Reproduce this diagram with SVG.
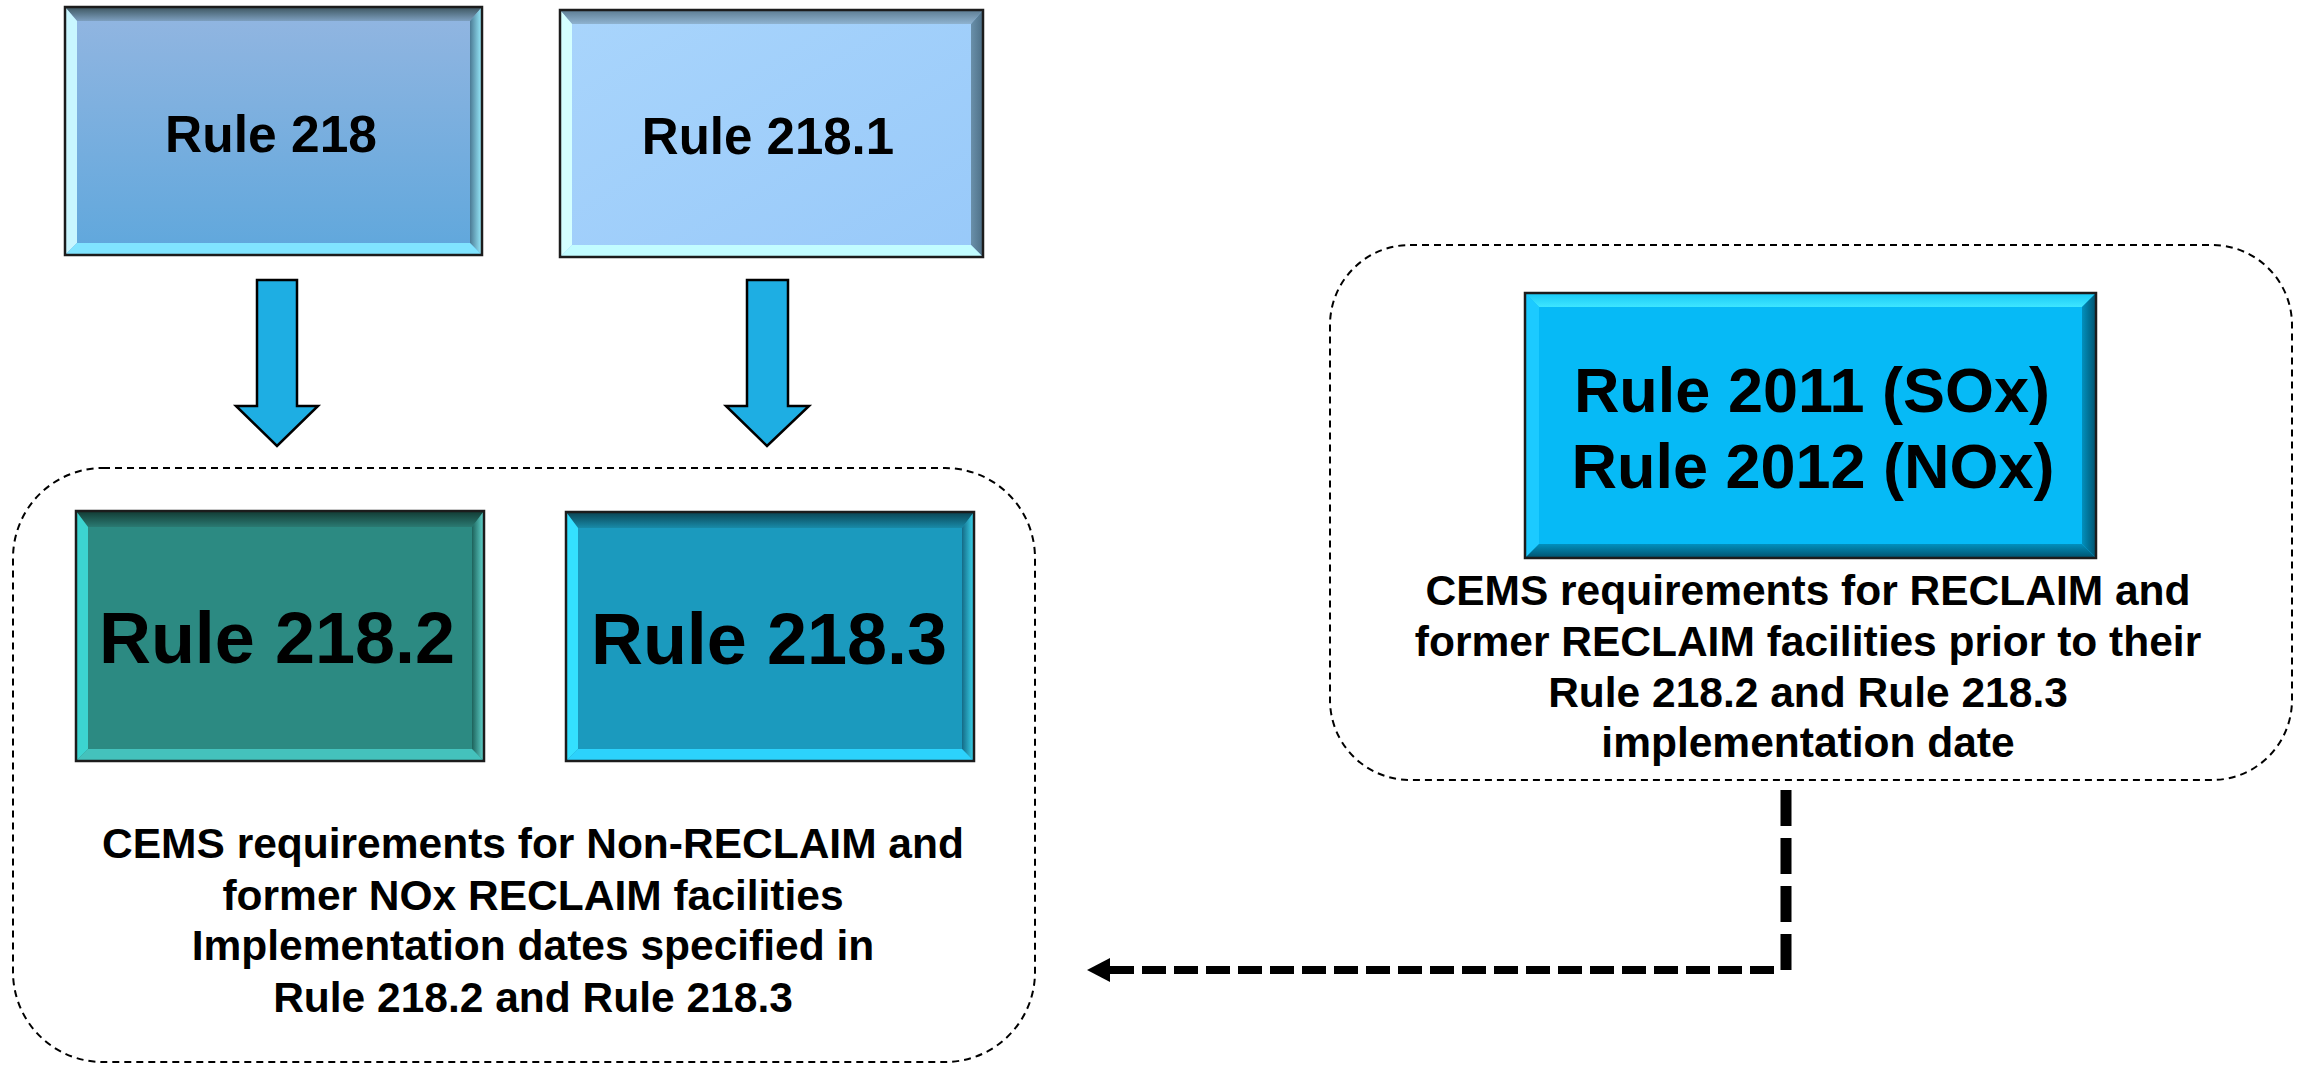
<svg xmlns="http://www.w3.org/2000/svg" width="2305" height="1065" viewBox="0 0 2305 1065">
<style>
.label{font-family:"Liberation Sans",Arial,sans-serif;font-weight:bold;fill:#000;text-anchor:middle}
.border{fill:none;stroke:#1c1c1c;stroke-width:2.5}
.container{fill:none;stroke:#000;stroke-width:2;stroke-dasharray:7 5}
.blockarrow{fill:#1eaee3;stroke:#000;stroke-width:2.5;stroke-linejoin:miter}
.conn-h{fill:none;stroke:#000;stroke-width:8;stroke-dasharray:24 8}
.conn-v{fill:none;stroke:#000;stroke-width:11;stroke-dasharray:36 12}
</style>
<defs>
<linearGradient id="g218" x1="0" y1="0" x2="0" y2="1"><stop offset="0" stop-color="#93b6e1"/><stop offset="1" stop-color="#5fa7dc"/></linearGradient>
<linearGradient id="g218t" x1="0" y1="0" x2="0" y2="1"><stop offset="0" stop-color="#3c555f"/><stop offset="1" stop-color="#7d9fbf"/></linearGradient>
<linearGradient id="g218r" x1="0" y1="0" x2="1" y2="0"><stop offset="0" stop-color="#4b7a94"/><stop offset="1" stop-color="#9aeeff"/></linearGradient>
<linearGradient id="g2181" x1="0" y1="0" x2="1" y2="1"><stop offset="0" stop-color="#a9d5fc"/><stop offset="1" stop-color="#98c9f9"/></linearGradient>
<linearGradient id="g2181t" x1="0" y1="0" x2="0" y2="1"><stop offset="0" stop-color="#5d7c92"/><stop offset="1" stop-color="#8fb3d0"/></linearGradient>
<linearGradient id="g2181r" x1="0" y1="0" x2="1" y2="0"><stop offset="0" stop-color="#6a90aa"/><stop offset="1" stop-color="#4d6f86"/></linearGradient>
<linearGradient id="g2182t" x1="0" y1="0" x2="0" y2="1"><stop offset="0" stop-color="#123a33"/><stop offset="1" stop-color="#2a7a72"/></linearGradient>
<linearGradient id="g2182r" x1="0" y1="0" x2="1" y2="0"><stop offset="0" stop-color="#1d625b"/><stop offset="1" stop-color="#62d8d0"/></linearGradient>
<linearGradient id="g2183t" x1="0" y1="0" x2="0" y2="1"><stop offset="0" stop-color="#0a4352"/><stop offset="1" stop-color="#188aa8"/></linearGradient>
<linearGradient id="g2183r" x1="0" y1="0" x2="1" y2="0"><stop offset="0" stop-color="#146a86"/><stop offset="1" stop-color="#3ad8f0"/></linearGradient>
<linearGradient id="g2011t" x1="0" y1="0" x2="0" y2="1"><stop offset="0" stop-color="#18c8f6"/><stop offset="1" stop-color="#3ee6ff"/></linearGradient>
<linearGradient id="g2011r" x1="0" y1="0" x2="1" y2="0"><stop offset="0" stop-color="#0290bd"/><stop offset="1" stop-color="#00526e"/></linearGradient>
<linearGradient id="g2011b" x1="0" y1="0" x2="0" y2="1"><stop offset="0" stop-color="#0290bd"/><stop offset="1" stop-color="#00526e"/></linearGradient>
<marker id="arrowhead" markerUnits="userSpaceOnUse" markerWidth="24" markerHeight="26" refX="0" refY="12" orient="auto" viewBox="0 0 24 24">
<path d="M0,0 L23,12 L0,24 Z" fill="#000"/>
</marker>
</defs>
<rect width="2305" height="1065" fill="#fff"/>

<g id="container-left">
<rect class="container" x="13" y="468" width="1022" height="594" rx="90" ry="90"/>
</g>
<g id="container-right">
<rect class="container" x="1330" y="245" width="962" height="535" rx="80" ry="80"/>
</g>

<g id="rule-218">
<rect x="65" y="7" width="417" height="248" fill="url(#g218)"/>
<polygon points="65,7 482,7 470,21 77,21" fill="url(#g218t)"/>
<polygon points="65,7 77,21 77,243 65,255" fill="#c8f6ff"/>
<polygon points="482,7 482,255 470,243 470,21" fill="url(#g218r)"/>
<polygon points="65,255 77,243 470,243 482,255" fill="#80e4ff"/>
<rect class="border" x="65" y="7" width="417" height="248"/>
<text class="label" x="271" y="152" font-size="51.5">Rule 218</text>
</g>

<g id="rule-218-1">
<rect x="560" y="10" width="423" height="247" fill="url(#g2181)"/>
<polygon points="560,10 983,10 971,24 572,24" fill="url(#g2181t)"/>
<polygon points="560,10 572,24 572,245 560,257" fill="#d4ffff"/>
<polygon points="983,10 983,257 971,245 971,24" fill="url(#g2181r)"/>
<polygon points="560,257 572,245 971,245 983,257" fill="#c2fcff"/>
<rect class="border" x="560" y="10" width="423" height="247"/>
<text class="label" x="768" y="154" font-size="51">Rule 218.1</text>
</g>

<g id="rule-218-2">
<rect x="76" y="511" width="408" height="250" fill="#2c8a82"/>
<polygon points="76,511 484,511 472,527 88,527" fill="url(#g2182t)"/>
<polygon points="76,511 88,527 88,749 76,761" fill="#3cd4d0"/>
<polygon points="484,511 484,761 472,749 472,527" fill="url(#g2182r)"/>
<polygon points="76,761 88,749 472,749 484,761" fill="#44c2bc"/>
<rect class="border" x="76" y="511" width="408" height="250"/>
<text class="label" x="277" y="663" font-size="72">Rule 218.2</text>
</g>

<g id="rule-218-3">
<rect x="566" y="512" width="408" height="249" fill="#1b9abe"/>
<polygon points="566,512 974,512 962,528 578,528" fill="url(#g2183t)"/>
<polygon points="566,512 578,528 578,749 566,761" fill="#34e0ff"/>
<polygon points="974,512 974,761 962,749 962,528" fill="url(#g2183r)"/>
<polygon points="566,761 578,749 962,749 974,761" fill="#2cd2fc"/>
<rect class="border" x="566" y="512" width="408" height="249"/>
<text class="label" x="769" y="664" font-size="72">Rule 218.3</text>
</g>

<g id="rule-2011-2012">
<rect x="1525" y="293" width="571" height="265" fill="#06baf6"/>
<polygon points="1525,293 2096,293 2082,307 1539,307" fill="url(#g2011t)"/>
<polygon points="1525,293 1539,307 1539,544 1525,558" fill="#1ccaff"/>
<polygon points="2096,293 2096,558 2082,544 2082,307" fill="url(#g2011r)"/>
<polygon points="1525,558 1539,544 2082,544 2096,558" fill="url(#g2011b)"/>
<rect class="border" x="1525" y="293" width="571" height="265"/>
<text class="label" x="1812" y="412" font-size="63">Rule 2011 (SOx)</text>
<text class="label" x="1813" y="488" font-size="63">Rule 2012 (NOx)</text>
</g>

<g id="text-left">
<text class="label" x="533" y="858" font-size="42.5">CEMS requirements for Non-RECLAIM and</text>
<text class="label" x="533" y="910" font-size="42.5">former NOx RECLAIM facilities</text>
<text class="label" x="533" y="960" font-size="42.5">Implementation dates specified in</text>
<text class="label" x="533" y="1012" font-size="42.5">Rule 218.2 and Rule 218.3</text>
</g>

<g id="text-right">
<text class="label" x="1808" y="605" font-size="42.5">CEMS requirements for RECLAIM and</text>
<text class="label" x="1808" y="656" font-size="42.5">former RECLAIM facilities prior to their</text>
<text class="label" x="1808" y="707" font-size="42.5">Rule 218.2 and Rule 218.3</text>
<text class="label" x="1808" y="757" font-size="42.5">implementation date</text>
</g>

<g id="connectors">
<polygon class="blockarrow" points="257,280 297,280 297,406 318,406 277,446 236,406 257,406"/>
<polygon class="blockarrow" points="747,280 788,280 788,406 809,406 767,446 726,406 747,406"/>
<path class="conn-v" d="M1786,790 L1786,970"/>
<path class="conn-h" d="M1774,970 L1110,970" marker-end="url(#arrowhead)"/>
</g>
</svg>
